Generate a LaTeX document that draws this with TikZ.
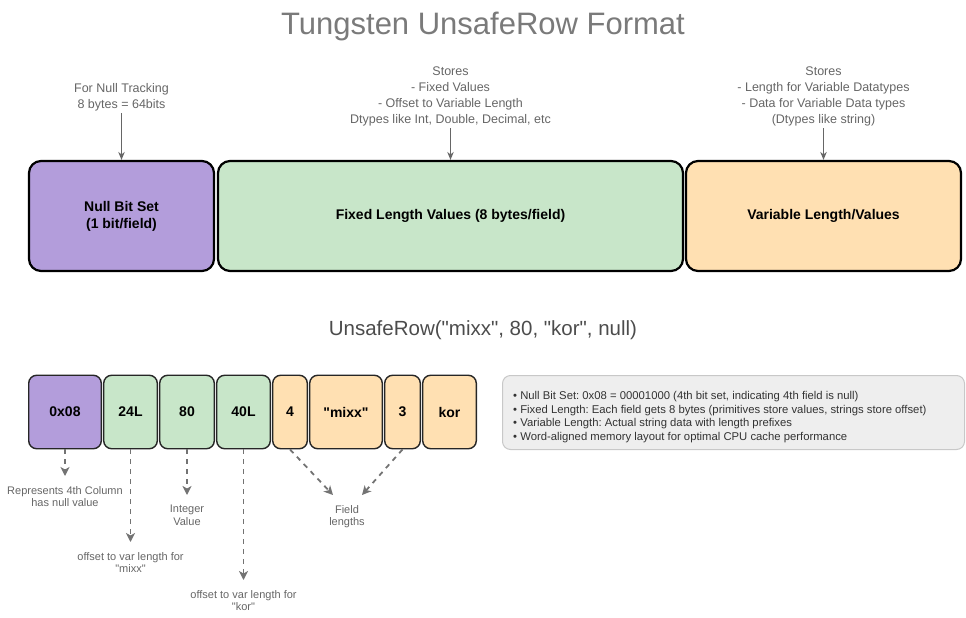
\documentclass[tikz,border=0pt]{standalone}
\usepackage{fontspec}
\setmainfont{Liberation Sans}[Ligatures=TeXOff]
\usetikzlibrary{arrows.meta}
\frenchspacing
\definecolor{purp}{HTML}{B39DDB}
\definecolor{grn}{HTML}{C8E6C9}
\definecolor{org}{HTML}{FFE0B2}
\definecolor{notefill}{HTML}{EEEEEE}
\definecolor{noteline}{HTML}{C8C8C8}
\definecolor{anntext}{HTML}{666666}
\definecolor{titlegray}{HTML}{7A7A7A}
\tikzset{
  bigbox/.style={draw=black, line width=2.2pt, rounded corners=12pt, minimum height=110pt,
    inner sep=0pt, font=\fontsize{14}{17}\selectfont\bfseries, align=center},
  cell/.style={draw=black!85, line width=1.4pt, rounded corners=8pt, minimum height=73.5pt,
    inner sep=0pt, font=\fontsize{14}{17}\selectfont\bfseries},
  ann/.style={font=\fontsize{12.5}{16}\selectfont, text=anntext, align=center, inner sep=0pt},
  annb/.style={font=\fontsize{11}{12.7}\selectfont, text=anntext, align=center, inner sep=0pt},
  arr/.style={draw=black!60, line width=1.2pt, -{Stealth[length=8pt,width=6.5pt]}},
  darr/.style={draw=black!55, line width=1.8pt, dash pattern=on 5pt off 5pt,
    -{Stealth[length=9pt,width=9pt,inset=2.5pt]}},
  notebox/.style={draw=noteline, fill=notefill, line width=1pt, rounded corners=8pt,
    minimum height=74pt, minimum width=462pt, inner sep=0pt},
  notetext/.style={align=left, inner sep=0pt, font=\fontsize{11.3}{13.7}\selectfont, text=black!80}
}
\begin{document}
\begin{tikzpicture}[x=1pt,y=-1pt]
\useasboundingbox (0,0) rectangle (966,618);

% title
\node[font=\fontsize{31}{35}\selectfont, text=titlegray] (title) at (483,27) {Tungsten UnsafeRow Format};

% top boxes
\node[bigbox, fill=purp, minimum width=185pt] (nb) at (121.5,216) {Null Bit Set\\(1 bit/field)};
\node[bigbox, fill=grn, minimum width=465pt] (fx) at (450.5,216) {Fixed Length Values (8 bytes/field)};
\node[bigbox, fill=org, minimum width=275pt] (vr) at (823.5,216) {Variable Length/Values};

% top annotations
\node[ann, anchor=south] (nt) at (121.5,111) {For Null Tracking\\8 bytes = 64bits};
\node[ann, anchor=south] (ft) at (450.5,126) {Stores\\- Fixed Values\\- Offset to Variable Length\\Dtypes like Int, Double, Decimal, etc};
\node[ann, anchor=south] (vt) at (823.5,126) {Stores\\- Length for Variable Datatypes\\- Data for Variable Data types\\(Dtypes like string)};
\draw[arr] (nt.south) ++(0,2) -- (nb.north);
\draw[arr] (ft.south) ++(0,2) -- (fx.north);
\draw[arr] (vt.south) ++(0,2) -- (vr.north);

% subtitle
\node[font=\fontsize{20.5}{24}\selectfont, text=black!70] (sub) at (483,330) {UnsafeRow("mixx", 80, "kor", null)};

% bottom cells
\node[cell, fill=purp, minimum width=72.6pt] (b1) at (65,412) {0x08};
\node[cell, fill=grn, minimum width=53.6pt] (b2) at (130.5,412) {24L};
\node[cell, fill=grn, minimum width=54.6pt] (b3) at (187,412) {80};
\node[cell, fill=grn, minimum width=53.6pt] (b4) at (243.5,412) {40L};
\node[cell, fill=org, minimum width=34.6pt] (b5) at (290,412) {4};
\node[cell, fill=org, minimum width=72.6pt] (b6) at (346,412) {"mixx"};
\node[cell, fill=org, minimum width=35.6pt] (b7) at (402.5,412) {3};
\node[cell, fill=org, minimum width=53.6pt] (b8) at (449.5,412) {kor};

% note
\node[notebox] (note) at (733.5,412.5) {};
\node[notetext, anchor=west] (notetxt) at (513,417) {• Null Bit Set: 0x08 = 00001000 (4th bit set, indicating 4th field is null)\\
• Fixed Length: Each field gets 8 bytes (primitives store values, strings store offset)\\
• Variable Length: Actual string data with length prefixes\\
• Word-aligned memory layout for optimal CPU cache performance};

% bottom annotations
\node[annb, anchor=north] (r1) at (65,486) {Represents 4th Column\\has null value};
\node[annb, anchor=north] (r2) at (130.5,552) {offset to var length for\\"mixx"};
\node[annb, anchor=north] (r3) at (187,505) {Integer\\Value};
\node[annb, anchor=north] (r4) at (243.5,590) {offset to var length for\\"kor"};
\node[annb, anchor=north] (fl) at (347,505) {Field\\lengths};
\coordinate (fa) at (333,495);
\coordinate (fb) at (362,495);

\draw[darr, shorten >=10pt] (b1.south) -- (r1.north);
\draw[darr, shorten >=10pt] (b2.south) -- (r2.north);
\draw[darr, shorten >=10pt] (b3.south) -- (r3.north);
\draw[darr, shorten >=10pt] (b4.south) -- (r4.north);
\draw[darr] (b5.south) -- (fa);
\draw[darr] (b7.south) -- (fb);
\end{tikzpicture}
\end{document}
